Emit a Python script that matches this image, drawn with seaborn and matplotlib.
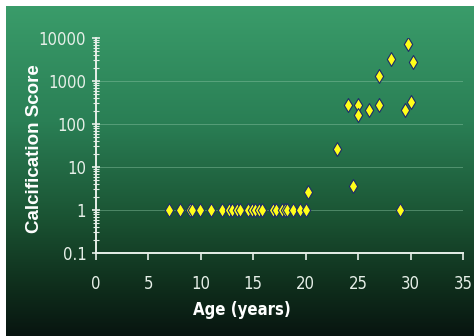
import numpy as np
import pandas as pd
import matplotlib
matplotlib.use("Agg")
import matplotlib.pyplot as plt
from matplotlib.colors import LinearSegmentedColormap
from matplotlib.ticker import LogLocator, FixedLocator, FixedFormatter
import seaborn as sns

age = [7.0, 8.0, 9.0, 9.2, 9.9, 11.0, 12.0, 12.7, 13.0, 13.4, 13.7, 14.5, 14.9,
       15.2, 15.5, 15.8, 16.9, 17.2, 17.7, 18.0, 18.2, 18.8, 19.5, 20.0,
       20.2, 23.0, 24.0, 24.5, 25.0, 25.0, 26.0, 27.0, 27.0, 28.1, 29.0,
       29.5, 29.8, 30.0, 30.2]
score = [1, 1, 1, 1, 1, 1, 1, 1, 1, 1, 1, 1, 1,
         1, 1, 1, 1, 1, 1, 1, 1, 1, 1, 1,
         2.6, 26, 270, 3.7, 270, 160, 215, 1300, 275, 3300, 1,
         215, 7200, 320, 2700]
x_ticks = [0, 5, 10, 15, 20, 25, 30, 35]
y_ticks = [0.1, 1, 10, 100, 1000, 10000]
y_tick_labels = ["0.1", "1", "10", "100", "1000", "10000"]

df = pd.DataFrame({"Age": age, "Score": score})

sns.set_theme(style="ticks")
plt.rcParams["font.family"] = ["DejaVu Sans"]
plt.rcParams["font.stretch"] = "condensed"

W, H = 474, 336
fig = plt.figure(figsize=(W / 100, H / 100), dpi=100)
fig.patch.set_facecolor("white")

# gradient background
bg = fig.add_axes([6 / W, 0, 1 - 6 / W, 1 - 6 / H])
cmap = LinearSegmentedColormap.from_list(
    "g", [(0.0, "#3a9c6a"), (0.35, "#2a7f55"), (0.65, "#1a5232"), (0.85, "#0f2e1c"), (1.0, "#081510")])
grad = np.linspace(0, 1, 256).reshape(-1, 1)
bg.imshow(grad, aspect="auto", cmap=cmap, extent=[0, 1, 0, 1], origin="upper")
bg.set_axis_off()

ax = fig.add_axes([96 / W, 1 - 253 / H, (463 - 96) / W, (253 - 38) / H])
ax.set_facecolor("none")

light = "#e6efe8"
for yv in [1, 10, 100, 1000]:
    ax.axhline(yv, color="#8cc4a4", lw=0.7, alpha=0.45, zorder=0)

sns.scatterplot(data=df, x="Age", y="Score", ax=ax, marker="d", s=50,
                color="#ffff1a", edgecolor="#1b2a6b", linewidth=0.8, zorder=3)

ax.set_yscale("log")
ax.set_xlim(0, 35)
ax.set_ylim(0.1, 10000)
ax.xaxis.set_major_locator(FixedLocator(x_ticks))
ax.yaxis.set_major_locator(FixedLocator(y_ticks))
ax.yaxis.set_major_formatter(FixedFormatter(y_tick_labels))
ax.yaxis.set_minor_locator(LogLocator(base=10, subs=np.arange(2, 10)))
ax.yaxis.set_minor_formatter(FixedFormatter([]))

for s in ["top", "right"]:
    ax.spines[s].set_visible(False)
for s in ["left", "bottom"]:
    ax.spines[s].set_color(light)
    ax.spines[s].set_linewidth(1.4)

ax.tick_params(axis="x", which="major", direction="out", length=5, width=1.2,
               colors=light, labelsize=12, pad=11)
ax.tick_params(axis="y", which="major", direction="inout", length=6, width=1.2,
               colors=light, labelsize=12, pad=4)
ax.tick_params(axis="y", which="minor", direction="inout", length=4, width=0.8,
               colors=light)
for lab in ax.get_xticklabels() + ax.get_yticklabels():
    lab.set_fontstretch("condensed")

ax.set_xlabel("Age (years)", fontsize=12, fontweight="bold", color="white",
              fontstretch="condensed")
ax.xaxis.set_label_coords(0.398, -0.225)
ax.set_ylabel("Calcification Score", fontsize=13.5, fontweight="bold", color="white",
              family=["Liberation Sans", "DejaVu Sans"])
ax.yaxis.set_label_coords(-0.145, 0.486)

fig.savefig("out.png", dpi=100)
